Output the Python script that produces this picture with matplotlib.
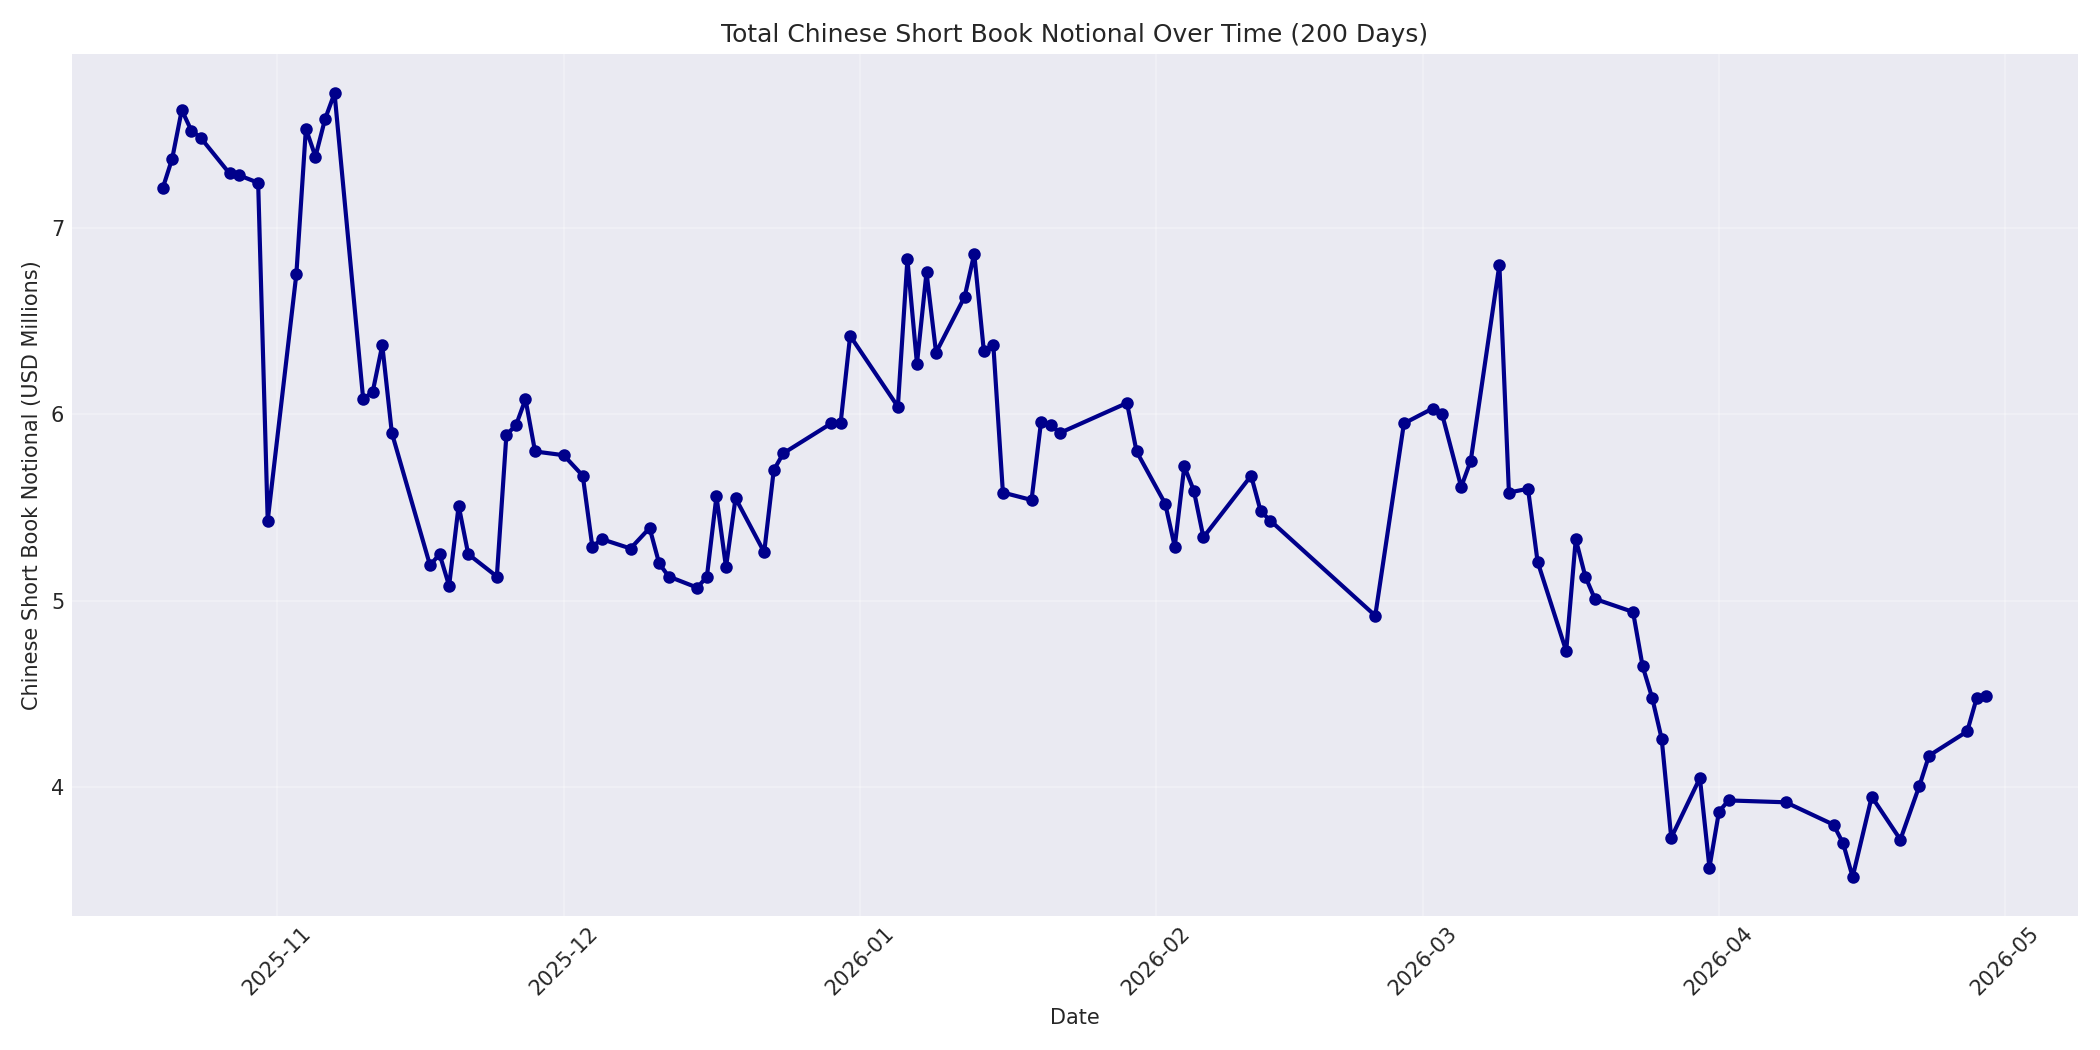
import matplotlib
matplotlib.use("Agg")
import matplotlib.pyplot as plt
import matplotlib.dates as mdates
import pandas as pd

# trading dates and total short book notional (USD millions)
dates = [
    "2025-10-20", "2025-10-21", "2025-10-22", "2025-10-23", "2025-10-24",
    "2025-10-27", "2025-10-28", "2025-10-30", "2025-10-31",
    "2025-11-03", "2025-11-04", "2025-11-05", "2025-11-06", "2025-11-07",
    "2025-11-10", "2025-11-11", "2025-11-12", "2025-11-13",
    "2025-11-17", "2025-11-18", "2025-11-19", "2025-11-20", "2025-11-21",
    "2025-11-24", "2025-11-25", "2025-11-26", "2025-11-27", "2025-11-28",
    "2025-12-01", "2025-12-03", "2025-12-04", "2025-12-05",
    "2025-12-08", "2025-12-10", "2025-12-11", "2025-12-12",
    "2025-12-15", "2025-12-16", "2025-12-17", "2025-12-18", "2025-12-19",
    "2025-12-22", "2025-12-23", "2025-12-24",
    "2025-12-29", "2025-12-30", "2025-12-31",
    "2026-01-05", "2026-01-06", "2026-01-07", "2026-01-08", "2026-01-09",
    "2026-01-12", "2026-01-13", "2026-01-14", "2026-01-15", "2026-01-16",
    "2026-01-19", "2026-01-20", "2026-01-21", "2026-01-22",
    "2026-01-29", "2026-01-30",
    "2026-02-02", "2026-02-03", "2026-02-04", "2026-02-05", "2026-02-06",
    "2026-02-11", "2026-02-12", "2026-02-13",
    "2026-02-24", "2026-02-27",
    "2026-03-02", "2026-03-03", "2026-03-05", "2026-03-06",
    "2026-03-09", "2026-03-10", "2026-03-12", "2026-03-13",
    "2026-03-16", "2026-03-17", "2026-03-18", "2026-03-19",
    "2026-03-23", "2026-03-24", "2026-03-25", "2026-03-26", "2026-03-27",
    "2026-03-30", "2026-03-31", "2026-04-01", "2026-04-02",
    "2026-04-08",
    "2026-04-13", "2026-04-14", "2026-04-15", "2026-04-17",
    "2026-04-20", "2026-04-22", "2026-04-23",
    "2026-04-27", "2026-04-28", "2026-04-29",
]
notional = [
    7.21, 7.37, 7.63, 7.52, 7.48,
    7.29, 7.28, 7.24, 5.43,
    6.75, 7.53, 7.38, 7.58, 7.72,
    6.08, 6.12, 6.37, 5.90,
    5.19, 5.25, 5.08, 5.51, 5.25,
    5.13, 5.89, 5.94, 6.08, 5.80,
    5.78, 5.67, 5.29, 5.33,
    5.28, 5.39, 5.20, 5.13,
    5.07, 5.13, 5.56, 5.18, 5.55,
    5.26, 5.70, 5.79,
    5.95, 5.95, 6.42,
    6.04, 6.83, 6.27, 6.76, 6.33,
    6.63, 6.86, 6.34, 6.37, 5.58,
    5.54, 5.96, 5.94, 5.90,
    6.06, 5.80,
    5.52, 5.29, 5.72, 5.59, 5.34,
    5.67, 5.48, 5.43,
    4.92, 5.95,
    6.03, 6.00, 5.61, 5.75,
    6.80, 5.58, 5.60, 5.21,
    4.73, 5.33, 5.13, 5.01,
    4.94, 4.65, 4.48, 4.26, 3.73,
    4.05, 3.57, 3.87, 3.93,
    3.92,
    3.80, 3.70, 3.52, 3.95,
    3.72, 4.01, 4.17,
    4.30, 4.48, 4.49,
]

x = pd.to_datetime(dates)

plt.style.use("seaborn-v0_8-darkgrid")
plt.rcParams["font.family"] = ["DejaVu Sans"]
fig, ax = plt.subplots(figsize=(14, 7), dpi=150)
ax.plot(x, notional, marker="o", color="darkblue", linewidth=2, markersize=5)
ax.set_title("Total Chinese Short Book Notional Over Time (200 Days)", fontsize=12)
ax.set_xlabel("Date")
ax.set_ylabel("Chinese Short Book Notional (USD Millions)")
ax.xaxis.set_major_locator(mdates.MonthLocator())
ax.xaxis.set_major_formatter(mdates.DateFormatter("%Y-%m"))
ax.grid(True, alpha=0.3)
plt.xticks(rotation=45)
plt.tight_layout()
plt.savefig("out.png")
